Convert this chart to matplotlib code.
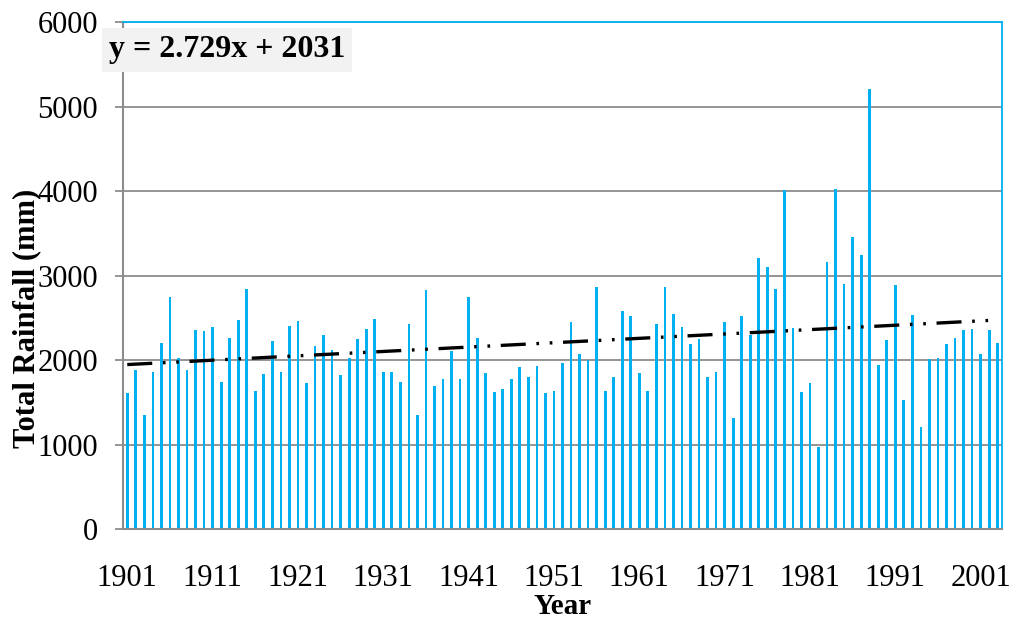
import numpy as np
import matplotlib.pyplot as plt

# Annual total rainfall, 1901-2003
years = np.arange(1901, 2004)
rainfall = [
    1605, 1877, 1345, 1853, 2196, 2740, 2019, 1877, 2350, 2338,
    2386, 1735, 2255, 2468, 2835, 1629, 1830, 2220, 1853, 2397,
    2457, 1723, 2161, 2291, 2114, 1818, 2019, 2244, 2362, 2480,
    1853, 1853, 1735, 2421, 1345, 2823, 1688, 1771, 2102, 1771,
    2740, 2255, 1841, 1617, 1652, 1771, 1912, 1794, 1924, 1605,
    1629, 1960, 2445, 2066, 1995, 2859, 1629, 1794, 2575, 2516,
    1841, 1629, 2421, 2859, 2539, 2386, 2185, 2244, 1794, 1853,
    2445, 1309, 2516, 2291, 3202, 3095, 2835, 4006, 2374, 1617,
    1723, 966, 3154, 4018, 2894, 3450, 3237, 5212, 1936, 2232,
    2882, 1522, 2527, 1203, 2007, 2019, 2184, 2255, 2350, 2362,
    2066, 2350, 2196,
]
xtick_years = list(range(1901, 2002, 10))
yticks = list(range(0, 6001, 1000))
equation = "y = 2.729x + 2031"

plt.rcParams['font.family'] = ['Liberation Serif', 'DejaVu Serif']
bar_color = "#00B0F0"
grid_color = "#8C8C8C"

W, H = 1014, 619
fig = plt.figure(figsize=(W / 100, H / 100), dpi=100)
ax = fig.add_axes([123 / W, 1 - 529 / H, (1002 - 123) / W, (529 - 22) / H])

ax.bar(years, rainfall, width=0.32, color=bar_color, zorder=2)

# linear trend fitted on the data (x = 1..n as in the spreadsheet)
idx = np.arange(1, len(years) + 1)
slope, intercept = np.polyfit(idx, rainfall, 1)
trend = slope * idx + intercept
ax.plot(years, trend, color="black", lw=2.4, zorder=3,
        dashes=(7.5, 3.2, 0.8, 3.2, 0.8, 3.2))

ax.set_xlim(1900.5, 2003.5)
ax.set_ylim(0, 6000)
ax.set_yticks(yticks)
ax.set_xticks(xtick_years)
ax.set_xticklabels([str(y) for y in xtick_years])
ax.yaxis.grid(True, color=grid_color, lw=1.3)
ax.set_axisbelow(True)

ax.tick_params(axis='y', length=6, width=1.3, color=grid_color,
               labelsize=22, pad=12)
ax.tick_params(axis='x', length=0, labelsize=22, pad=25)

for side in ("left", "bottom"):
    ax.spines[side].set_color(grid_color)
    ax.spines[side].set_linewidth(1.5)
for side in ("top", "right"):
    ax.spines[side].set_color(bar_color)
    ax.spines[side].set_linewidth(1.3)

ax.set_xlabel("Year", fontsize=21, fontweight="bold", labelpad=0)
fig.text(27 / W, 1 - 318 / H, "Total Rainfall (mm)", rotation=90,
         fontsize=22, fontweight="bold", ha="center", va="center")

fig.text(227 / W, 1 - 50 / H, equation, fontsize=23, fontweight="bold",
         ha="center", va="center",
         bbox=dict(facecolor="#F2F2F2", edgecolor="none", pad=5))

fig.savefig("out.png", dpi=100)
